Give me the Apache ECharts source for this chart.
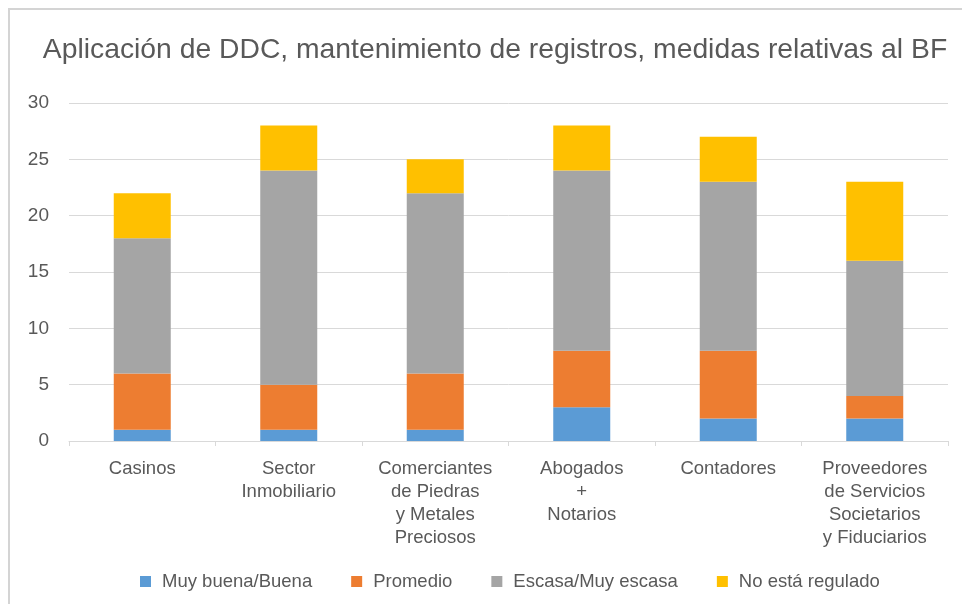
<!DOCTYPE html>
<html>
<head>
<meta charset="utf-8">
<script src="https://cdn.jsdelivr.net/npm/echarts@6/dist/echarts.min.js"></script>
<style>
  html, body { margin: 0; padding: 0; background: #fff; }
  #chart { width: 962px; height: 604px; }
</style>
</head>
<body>
<div id="chart"></div>
<script>
    // 数据
    var categories = [
        'Casinos',
        'Sector\nInmobiliario',
        'Comerciantes\nde Piedras\ny Metales\nPreciosos',
        'Abogados\n+\nNotarios',
        'Contadores',
        'Proveedores\nde Servicios\nSocietarios\ny Fiduciarios'
    ];
    var muyBuena = [1, 1, 1, 3, 2, 2];
    var promedio = [5, 4, 5, 5, 6, 2];
    var escasa = [12, 19, 16, 16, 15, 12];
    var noRegulado = [4, 4, 3, 4, 4, 7];
    var seriesNames = ['Muy buena/Buena', 'Promedio', 'Escasa/Muy escasa', 'No está regulado'];
    var colors = ['#5B9BD5', '#ED7D31', '#A5A5A5', '#FFC000'];

    var myChart = echarts.init(document.getElementById('chart'));

    function barSeries(name, data) {
        return {
            name: name,
            type: 'bar',
            stack: 'total',
            barWidth: 57,
            data: data
        };
    }

    var option = {
        backgroundColor: '#fff',
        color: colors,
        animation: false,
        graphic: [{
            type: 'rect',
            shape: { x: 9, y: 9, width: 1000, height: 1000 },
            style: { fill: 'none', stroke: '#d4d4d4', lineWidth: 2 }
        }],
        title: {
            text: 'Aplicación de DDC, mantenimiento de registros, medidas relativas al BF',
            left: 490,
            textAlign: 'center',
            top: 31,
            textStyle: {
                fontFamily: 'Liberation Sans',
                fontSize: 28.3,
                fontWeight: 'normal',
                color: '#595959'
            }
        },
        legend: {
            data: seriesNames,
            top: 567,
            left: 135,
            itemWidth: 11,
            itemHeight: 11,
            itemGap: 39,
            icon: 'rect',
            textStyle: {
                fontFamily: 'Liberation Sans',
                fontSize: 18.5,
                color: '#595959',
                padding: [0, 0, 0, 6]
            }
        },
        grid: {
            left: 69,
            right: 14,
            top: 103,
            bottom: 163
        },
        xAxis: {
            type: 'category',
            data: categories,
            axisLine: { lineStyle: { color: '#d9d9d9' } },
            axisTick: { show: true, length: 5, lineStyle: { color: '#d9d9d9' } },
            axisLabel: {
                interval: 0,
                margin: 16,
                fontFamily: 'Liberation Sans',
                fontSize: 18.5,
                lineHeight: 23,
                color: '#595959'
            }
        },
        yAxis: {
            type: 'value',
            min: 0,
            max: 30,
            interval: 5,
            axisLine: { show: false },
            axisTick: { show: false },
            splitLine: { lineStyle: { color: '#d9d9d9' } },
            axisLabel: {
                margin: 20,
                fontFamily: 'Liberation Sans',
                fontSize: 19,
                color: '#595959'
            }
        },
        series: [
            barSeries(seriesNames[0], muyBuena),
            barSeries(seriesNames[1], promedio),
            barSeries(seriesNames[2], escasa),
            barSeries(seriesNames[3], noRegulado)
        ]
    };

    myChart.setOption(option);
</script>
</body>
</html>
